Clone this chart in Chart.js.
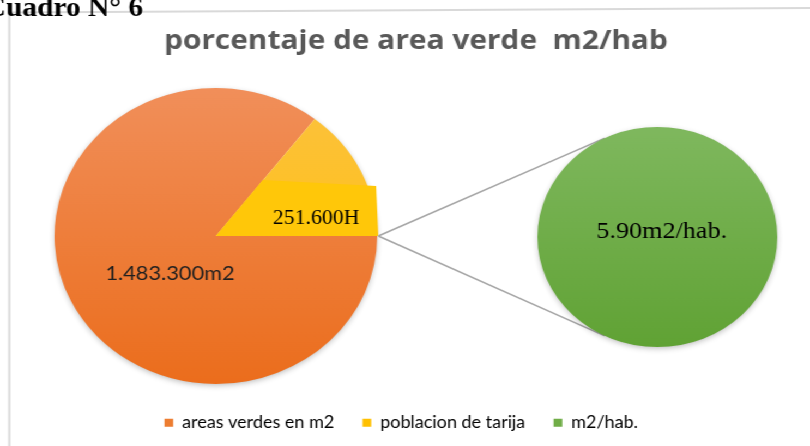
<!DOCTYPE html>
<html>
<head>
<meta charset="utf-8">
<script src="https://cdn.jsdelivr.net/npm/chart.js@4.4.1/dist/chart.umd.min.js"></script>
<style>
  html, body { margin: 0; padding: 0; background: #fff; overflow: hidden; }
  /* the picture is stretched sideways a little, like the original image */
  #wrap { position: absolute; left: 0; top: 0; width: 743px; height: 446px; transform: scaleX(1.0902); transform-origin: 0 0; }
  .layer { position: absolute; left: 0; top: 0; width: 743px; height: 446px; }
</style>
</head>
<body>
<div id="wrap">
  <div class="layer"><canvas id="pieMain"></canvas></div>
  <div class="layer"><canvas id="pieRatio"></canvas></div>
</div>
<script>
const categories = ['areas verdes en m2', 'poblacion de tarija', 'm2/hab.'];
const mainValues = [1483300, 251600];
const mainLabels = ['1.483.300m2', '251.600H'];
const ratioValues = [5.90];
const ratioLabels = ['5.90m2/hab.'];
const legendColors = ['#ED7D31', '#FFC000', '#70AD47'];

const mainFills = [['#F18F5A', '#EB6D1C'], ['#FCC23F', '#FFBF00']];
const ratioFills = [['#7FB85E', '#60A234']];

function gradFill(ctx, pair) {
  const a = ctx.chart.chartArea;
  if (!a) return pair[1];
  const g = ctx.chart.ctx.createLinearGradient(0, a.top, 0, a.bottom);
  g.addColorStop(0, pair[0]);
  g.addColorStop(1, pair[1]);
  return g;
}

// put the pie where it sits in the picture, title/legend stay full width
const placePie = {
  id: 'placePie',
  afterLayout(chart, args, o) {
    const a = chart.chartArea;
    a.left = o.cx - o.r; a.right = o.cx + o.r;
    a.top = o.cy - o.r; a.bottom = o.cy + o.r;
    a.width = a.height = 2 * o.r;
  }
};

const pieShadow = {
  id: 'pieShadow',
  beforeDatasetsDraw(chart) {
    const arc = chart.getDatasetMeta(0).data[0];
    if (!arc) return;
    const c = chart.ctx;
    c.save();
    c.shadowColor = 'rgba(0,0,0,0.3)';
    c.shadowBlur = 6;
    c.shadowOffsetY = 2;
    c.fillStyle = '#fff';
    c.beginPath();
    c.arc(arc.x, arc.y, arc.outerRadius - 1, 0, Math.PI * 2);
    c.fill();
    c.restore();
  }
};

const mainDecor = {
  id: 'mainDecor',
  beforeDraw(chart) {
    const c = chart.ctx;
    c.save();
    c.strokeStyle = '#d9d9d9';
    c.lineWidth = 2;
    c.beginPath();
    c.moveTo(8.5, 446);
    c.lineTo(8.5, 12.5);
    c.lineTo(743, 8);
    c.stroke();
    c.fillStyle = '#000';
    c.font = 'bold 27px "Liberation Serif"';
    c.textBaseline = 'alphabetic';
    c.fillText('Cuadro N° 6', -14, 15.5);
    c.restore();
  },
  afterDatasetsDraw(chart) {
    const arcs = chart.getDatasetMeta(0).data;
    const c = chart.ctx;
    const x = arcs[0].x, y = arcs[0].y;
    c.save();
    // label box of the small slice
    c.fillStyle = '#FFC709';
    c.beginPath();
    c.moveTo(x, y);
    c.lineTo(x + 43, y - 56);
    c.lineTo(x + 147, y - 50);
    c.lineTo(x + 149, y);
    c.closePath();
    c.fill();
    c.textAlign = 'center';
    c.textBaseline = 'middle';
    c.fillStyle = '#000';
    c.font = '20px "Liberation Serif"';
    c.fillText(mainLabels[1], x + 92, y - 17);
    c.fillStyle = '#1f1f1f';
    c.font = '20px Lato';
    c.fillText(mainLabels[0], x - 42, y + 38);
    c.restore();
  }
};

const mainChart = new Chart(document.getElementById('pieMain'), {
  type: 'pie',
  data: {
    labels: categories.slice(0, 2),
    datasets: [{
      data: mainValues,
      backgroundColor: (ctx) => gradFill(ctx, mainFills[ctx.dataIndex]),
      borderWidth: 0
    }]
  },
  options: {
    responsive: true,
    maintainAspectRatio: false,
    animation: false,
    events: [],
    rotation: 90,
    layout: { padding: { left: 20 } },
    plugins: {
      legend: { display: false },
      tooltip: { enabled: false },
      title: {
        display: true,
        text: 'porcentaje de area verde  m2/hab',
        color: '#595959',
        font: { family: 'Open Sans', size: 27.4, weight: 'bold', lineHeight: 1.2 },
        padding: { top: 25, bottom: 0 }
      },
      placePie: { cx: 198, cy: 236, r: 148 }
    }
  },
  plugins: [placePie, mainDecor, pieShadow]
});

const ratioDecor = {
  id: 'ratioDecor',
  beforeDatasetsDraw(chart) {
    const small = mainChart.getDatasetMeta(0).data[1];
    const big = chart.getDatasetMeta(0).data[0];
    if (!small || !big) return;
    const sx = small.x + small.outerRadius * Math.cos(small.endAngle) + 1;
    const sy = small.y + small.outerRadius * Math.sin(small.endAngle);
    const c = chart.ctx;
    c.save();
    c.strokeStyle = '#A6A6A6';
    c.lineWidth = 1.6;
    [-116, 116].forEach((deg) => {
      const t = deg * Math.PI / 180;
      c.beginPath();
      c.moveTo(sx, sy);
      c.lineTo(big.x + big.outerRadius * Math.cos(t), big.y + big.outerRadius * Math.sin(t));
      c.stroke();
    });
    c.restore();
  },
  afterDatasetsDraw(chart) {
    const big = chart.getDatasetMeta(0).data[0];
    const c = chart.ctx;
    c.save();
    c.textAlign = 'center';
    c.textBaseline = 'middle';
    c.fillStyle = '#000';
    c.font = '24px "Liberation Serif"';
    c.fillText(ratioLabels[0], big.x + 4, big.y - 5);
    c.restore();
  }
};

const ratioChart = new Chart(document.getElementById('pieRatio'), {
  type: 'pie',
  data: {
    labels: [categories[2]],
    datasets: [{
      data: ratioValues,
      backgroundColor: (ctx) => gradFill(ctx, ratioFills[0]),
      borderWidth: 0
    }]
  },
  options: {
    responsive: true,
    maintainAspectRatio: false,
    animation: false,
    events: [],
    layout: { padding: { right: 7, bottom: 5 } },
    plugins: {
      tooltip: { enabled: false },
      legend: {
        display: true,
        position: 'bottom',
        labels: {
          boxWidth: 8,
          boxHeight: 8,
          padding: 26,
          color: '#595959',
          font: { family: 'Lato', size: 16.5 },
          generateLabels: () => categories.map((t, i) => ({
            text: t,
            fillStyle: legendColors[i],
            strokeStyle: legendColors[i],
            lineWidth: 0,
            hidden: false,
            index: i
          }))
        }
      },
      placePie: { cx: 603, cy: 237, r: 110 }
    }
  },
  plugins: [placePie, ratioDecor, pieShadow]
});
</script>
</body>
</html>
